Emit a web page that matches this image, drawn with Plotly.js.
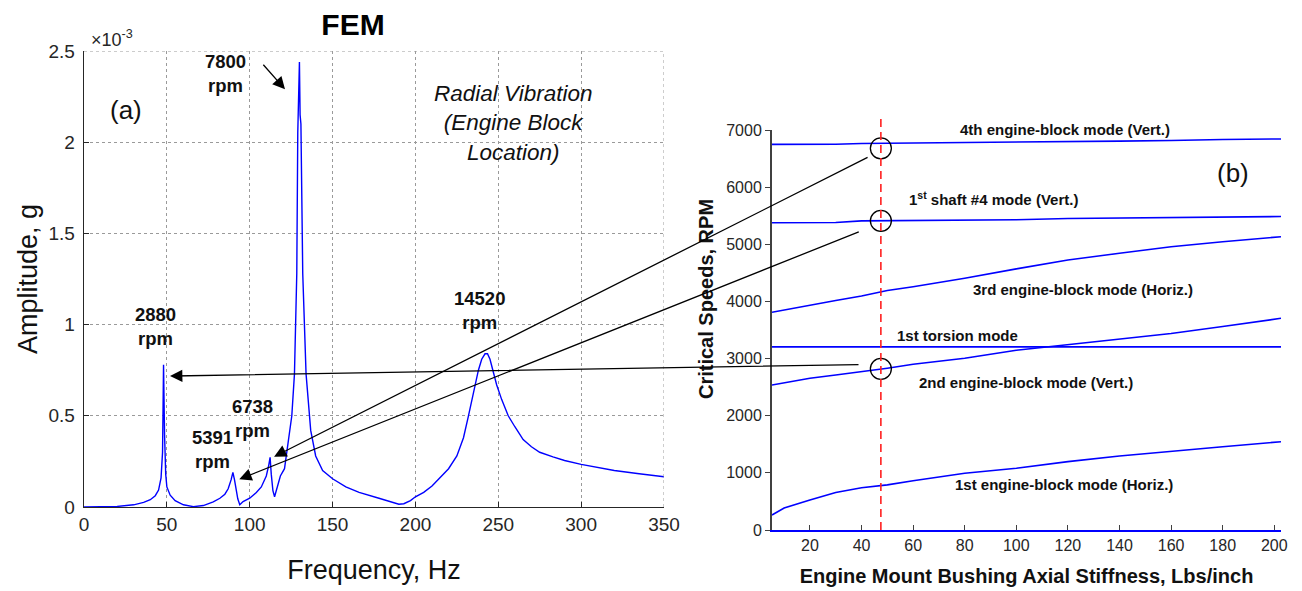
<!DOCTYPE html>
<html>
<head>
<meta charset="utf-8">
<script src="https://cdn.plot.ly/plotly-3.0.1.min.js"></script>
<style>
  html, body { margin: 0; padding: 0; background: #ffffff; }
  #chart { width: 1302px; height: 591px; }
</style>
</head>
<body>
<div id="chart"></div>
<script>
// ---------- (a) FEM radial vibration at the engine block location ----------
const freqHz = [
  0, 10, 20, 30, 36, 40, 43, 45, 46.5, 47.4, 48, 48.6, 49.3, 50, 52, 55, 60, 66, 72, 78,
  82, 85, 87, 88.8, 89.85, 90.8, 91.8, 92.8, 94, 96, 100, 104, 107, 110, 111.5, 112.3,
  113, 114, 115, 116.5, 118.5, 121, 122.6, 124, 125.4, 127, 128.4, 129, 129.3, 130,
  130.4, 130.9, 132, 134, 136.8, 139.8, 144, 150, 158, 166, 178, 186, 190, 193, 197,
  200, 205, 210, 215, 220, 225, 229, 232, 235, 238, 240, 242, 243.5, 245, 247, 249,
  252, 256, 260, 265, 270, 275, 283, 290, 300, 310, 320, 335, 350
];
// amplitude in units of 10^-3 g
const amplitudeE3 = [
  0.000, 0.000, 0.003, 0.012, 0.025, 0.040, 0.062, 0.093, 0.16, 0.30, 0.78, 0.40, 0.18, 0.11, 0.065, 0.035, 0.012, 0.002, 0.008, 0.028,
  0.048, 0.070, 0.10, 0.15, 0.19, 0.15, 0.09, 0.045, 0.012, 0.030, 0.048, 0.080, 0.11, 0.17, 0.23, 0.272,
  0.18, 0.09, 0.056, 0.11, 0.17, 0.21, 0.32, 0.42, 0.50, 0.73, 1.28, 2.05, 2.15, 2.44,
  2.15, 2.10, 1.28, 0.73, 0.42, 0.28, 0.20, 0.155, 0.11, 0.08, 0.048, 0.025, 0.015, 0.018, 0.035,
  0.056, 0.08, 0.115, 0.16, 0.21, 0.28, 0.38, 0.50, 0.63, 0.75, 0.81, 0.84, 0.84, 0.81, 0.74, 0.67,
  0.59, 0.50, 0.44, 0.37, 0.33, 0.30, 0.275, 0.255, 0.234, 0.215, 0.20, 0.182, 0.166
];
const xTicksHz = [0, 50, 100, 150, 200, 250, 300, 350];
const yTicksAmp = [0, 0.5, 1, 1.5, 2, 2.5];

// labelled resonance peaks (rpm)
const peakRpm = [2880, 5391, 6738, 7800, 14520];

// ---------- (b) critical speed map vs. engine mount bushing stiffness ----------
const stiffness = [5.3, 10, 20, 30, 40, 50, 60, 80, 100, 120, 140, 160, 180, 202.6];
const mode4EngineVert  = [6748, 6748, 6750, 6750, 6765, 6768, 6770, 6782, 6786, 6796, 6805, 6815, 6835, 6843];
const shaft4Vert       = [5376, 5376, 5378, 5380, 5410, 5413, 5415, 5420, 5430, 5450, 5460, 5472, 5478, 5485];
const mode3EngineHoriz = [3810, 3850, 3938, 4015, 4095, 4190, 4258, 4405, 4570, 4725, 4842, 4958, 5045, 5133];
const torsion1         = [3205, 3205, 3205, 3205, 3205, 3205, 3205, 3205, 3205, 3205, 3205, 3205, 3205, 3205];
const mode2EngineVert  = [2538, 2575, 2655, 2712, 2770, 2832, 2900, 3005, 3145, 3245, 3340, 3440, 3560, 3705];
const mode1EngineHoriz = [262, 385, 525, 655, 740, 790, 863, 992, 1080, 1196, 1295, 1370, 1458, 1545];
const modeNames = [
  '4th engine-block mode (Vert.)',
  '1<sup>st</sup> shaft #4 mode (Vert.)',
  '3rd engine-block mode (Horiz.)',
  '1st torsion mode',
  '2nd engine-block mode (Vert.)',
  '1st engine-block mode (Horiz.)'
];
const mountStiffness = 47.5;                 // selected bushing stiffness, Lbs/inch
const markedSpeeds = [6680, 5410, 2820];     // highlighted critical speeds, RPM

// ---------- helpers: figure pixels -> paper fractions ----------
const W = 1302, H = 591;
const px = v => v / W;
const py = v => 1 - v / H;

const FONT = 'Arial, "Liberation Sans", sans-serif';
const TXT = '#262626';
const BLUE = '#0000ff';

const traces = [];
traces.push({
  x: freqHz, y: amplitudeE3, xaxis: 'x', yaxis: 'y',
  type: 'scatter', mode: 'lines',
  line: { color: BLUE, width: 1.4 },
  hoverinfo: 'skip'
});
[mode4EngineVert, shaft4Vert, mode3EngineHoriz, torsion1, mode2EngineVert, mode1EngineHoriz].forEach(vals => {
  traces.push({
    x: stiffness, y: vals, xaxis: 'x2', yaxis: 'y2',
    type: 'scatter', mode: 'lines',
    line: { color: BLUE, width: 1.6 },
    hoverinfo: 'skip'
  });
});
traces.push({
  x: markedSpeeds.map(() => mountStiffness), y: markedSpeeds, xaxis: 'x2', yaxis: 'y2',
  type: 'scatter', mode: 'markers',
  marker: { symbol: 'circle-open', size: 21, color: '#000000', line: { width: 1.3, color: '#000000' } },
  cliponaxis: false, hoverinfo: 'skip'
});

const annotations = [];
function label(text, x, y, size, opts) {
  annotations.push(Object.assign({
    text: text, xref: 'paper', yref: 'paper', x: px(x), y: py(y),
    xanchor: 'center', yanchor: 'middle', showarrow: false,
    font: { family: FONT, size: size, color: '#111111' }
  }, opts || {}));
}

// panel (a) texts
label('×10<sup>-3</sup>', 112, 39, 18, { font: { family: FONT, size: 18, color: TXT } });
label('(a)', 126, 110, 26);
label('<i>Radial Vibration<br>(Engine Block<br>Location)</i>', 513, 123, 22.5);
const peakLabelPos = [[155, 326], [212, 449], [252, 418], [226, 74], [479, 311]];
peakRpm.forEach((r, i) => {
  label('<b>' + r + '<br>rpm</b>', peakLabelPos[i][0], peakLabelPos[i][1], 18.5);
});

// panel (b) texts
label('(b)', 1233, 173, 26);
const modeLabelPos = [[1065, 129], [993, 198], [1083, 289], [957, 335], [1026, 382], [1064, 484]];
modeNames.forEach((t, i) => label('<b>' + t + '</b>', modeLabelPos[i][0], modeLabelPos[i][1], 15));
label('<b>Critical Speeds, RPM</b>', 706, 299, 20, { textangle: -90 });

// connector arrows from the speed map to the spectrum peaks (head on the peak, tail in pixels)
function arrow(hx, hy, ax, ay) {
  annotations.push({
    x: hx, y: hy, xref: 'x', yref: 'y', ax: ax, ay: ay, axref: 'pixel', ayref: 'pixel',
    text: '', showarrow: true, arrowhead: 2, arrowsize: 1.9, arrowwidth: 1.3,
    arrowcolor: '#000000', standoff: 0
  });
}
arrow(51.9, 0.718, 690, -11.5);     // 2880 rpm
arrow(114.7, 0.276, 595, -300);     // 6738 rpm
arrow(93.7, 0.152, 621, -248);      // 5391 rpm
arrow(121.3, 2.29, -23, -26);       // 7800 rpm

const gridEdge = { color: '#9a9a9a', width: 1, dash: 'dot' };
const shapes = [
  // dotted grid lines along the upper and right edges of panel (a)
  { type: 'line', xref: 'x', yref: 'y', x0: 0, x1: 350, y0: 2.5, y1: 2.5, line: gridEdge },
  { type: 'line', xref: 'x', yref: 'y', x0: 350, x1: 350, y0: 0, y1: 2.5, line: gridEdge },
  // selected mount stiffness
  {
    type: 'line', xref: 'x2', yref: 'paper',
    x0: mountStiffness, x1: mountStiffness, y0: py(530), y1: py(114),
    line: { color: '#ff2020', width: 1.6, dash: '8px,5px' }
  }
];

const gridStyle = { showgrid: true, gridcolor: '#9a9a9a', gridwidth: 1, griddash: 'dot' };

const layout = {
  width: W, height: H,
  margin: { l: 0, r: 0, t: 0, b: 0, pad: 0 },
  paper_bgcolor: '#ffffff', plot_bgcolor: 'rgba(0,0,0,0)',
  showlegend: false,
  font: { family: FONT, color: TXT },
  title: {
    text: '<b>FEM</b>', x: px(353), xanchor: 'center', y: py(24), yanchor: 'middle',
    font: { family: FONT, size: 30, color: '#000000' }
  },
  xaxis: Object.assign({
    domain: [px(84), px(664)], range: [0, 350], tickvals: xTicksHz,
    showline: true, linecolor: TXT, linewidth: 1.3,
    ticks: 'inside', ticklen: 5, tickcolor: TXT, tickwidth: 1,
    zeroline: false, tickfont: { family: FONT, size: 19, color: TXT },
    title: { text: 'Frequency, Hz', font: { family: FONT, size: 27, color: '#111111' }, standoff: 26 },
    anchor: 'y', fixedrange: true
  }, gridStyle),
  yaxis: Object.assign({
    domain: [py(507), py(51)], range: [0, 2.5], tickvals: yTicksAmp,
    showline: true, linecolor: TXT, linewidth: 1.3,
    ticks: 'inside', ticklen: 5, tickcolor: TXT, tickwidth: 1,
    zeroline: false, tickfont: { family: FONT, size: 19, color: TXT },
    ticklabelstandoff: 4,
    title: { text: 'Amplitude, g', font: { family: FONT, size: 27, color: '#111111' }, standoff: 3 },
    anchor: 'x', fixedrange: true
  }, gridStyle),
  xaxis2: {
    domain: [px(772), px(1281)], range: [5.3, 202.6], tick0: 0, dtick: 20,
    showline: true, linecolor: BLUE, linewidth: 2,
    ticks: 'inside', ticklen: 5, tickcolor: '#404040', tickwidth: 1,
    showgrid: false, zeroline: false,
    tickfont: { family: FONT, size: 16, color: TXT },
    title: { text: '<b>Engine Mount Bushing Axial Stiffness, Lbs/inch</b>', font: { family: FONT, size: 20, color: '#111111' }, standoff: 16 },
    anchor: 'y2', fixedrange: true
  },
  yaxis2: {
    domain: [py(530), py(130)], range: [0, 7000], tick0: 0, dtick: 1000,
    showline: true, linecolor: '#404040', linewidth: 2,
    ticks: 'outside', ticklen: 5, tickcolor: '#404040', tickwidth: 1,
    showgrid: false, zeroline: false,
    tickfont: { family: FONT, size: 16, color: TXT },
    anchor: 'x2', fixedrange: true
  },
  annotations: annotations,
  shapes: shapes
};

Plotly.newPlot('chart', traces, layout, { displayModeBar: false, staticPlot: true });
</script>
</body>
</html>
